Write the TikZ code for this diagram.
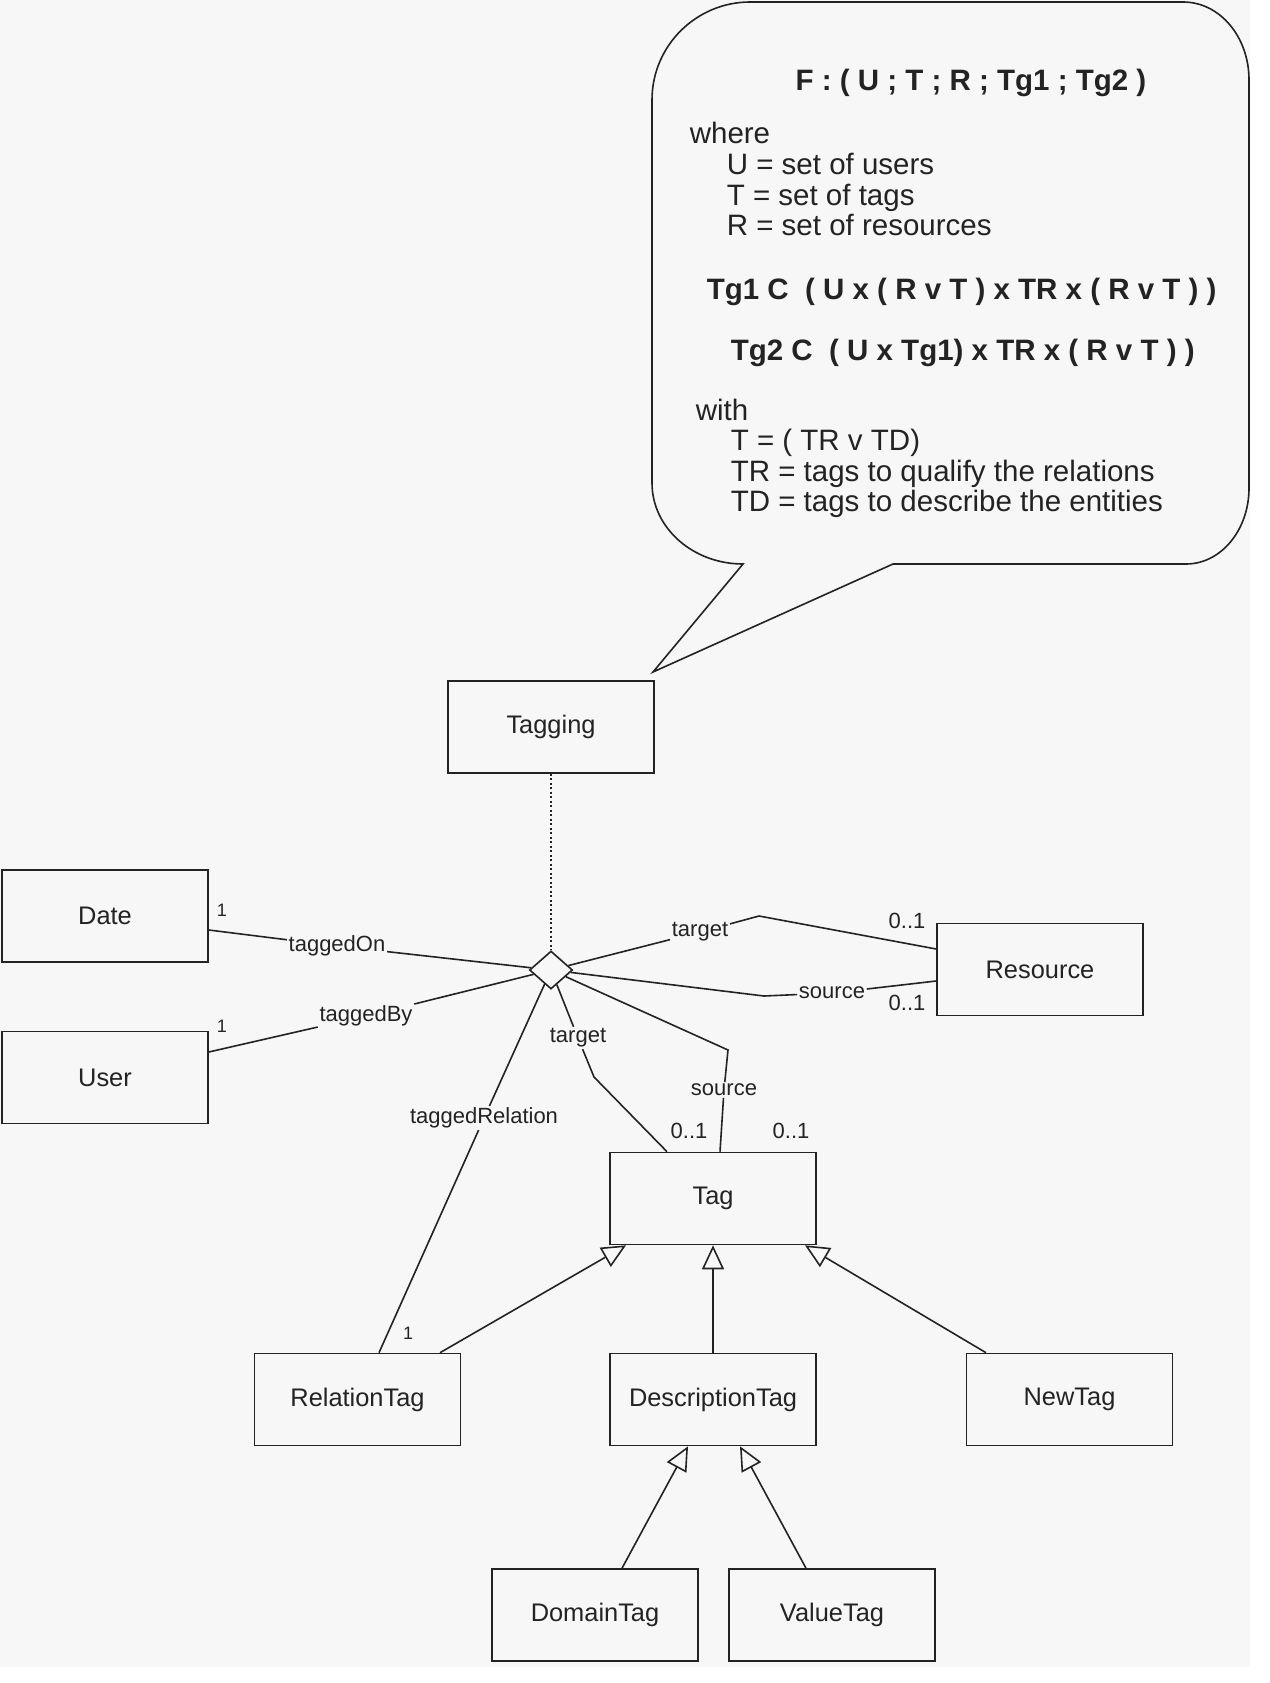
\documentclass[tikz,border=0pt]{standalone}
\usepackage{fontspec}
\setmainfont{Liberation Sans}
\usepackage{tikz}
\usetikzlibrary{shapes.geometric, arrows.meta}
\definecolor{ink}{RGB}{35,35,35}
\definecolor{paper}{RGB}{247,247,247}
\newcommand{\classfont}{\fontsize{25.4}{30}\selectfont}
\newcommand{\rolefont}{\fontsize{22}{26}\selectfont}
\newcommand{\multfont}{\fontsize{18}{22}\selectfont}
\newcommand{\notefont}{\fontsize{29.5}{34}\selectfont}

\begin{document}
\begin{tikzpicture}[x=1pt, y=-1pt, line width=1.6pt, color=ink,
        class/.style={draw, rectangle, minimum width=206pt, minimum height=92pt, font=\classfont},
        role/.style={fill=paper, inner sep=1pt, font=\rolefont},
        mult/.style={inner sep=0pt, font=\rolefont},
        note/.style={inner sep=0pt, font=\notefont},
        isa/.style={-{Triangle[open, length=24pt, width=22pt]}}]
                \fill[white] (0,0) rectangle (1269,1683);
                \fill[paper] (0,0) rectangle (1250,1667);
                \useasboundingbox (0,0) rectangle (1269,1683);

                \draw (743,564) .. controls (693,564) and (652,528) .. (652,483)
                    -- (652,100) .. controls (652,45) and (697,2) .. (750,2)
                    -- (1183,2) .. controls (1220,2) and (1249,37) .. (1249,80)
                    -- (1249,488) .. controls (1249,530) and (1221,564) .. (1186,564)
                    -- (893,564) -- (653,672) -- cycle;
                \node[note, font=\notefont\bfseries, anchor=base] (formula) at (971,91) {F : ( U ; T ; R ; Tg1 ; Tg2 )};
                \node[note, anchor=base west] (where) at (689,143) {where};
                \node[note, anchor=base west] (users) at (726,174) {U = set of users};
                \node[note, anchor=base west] (tags) at (726,205) {T = set of tags};
                \node[note, anchor=base west] (resources) at (726,235) {R = set of resources};
                \node[note, font=\notefont\bfseries, anchor=base west] (tgone) at (706,299) {Tg1 C\ \ ( U x ( R v T ) x TR x ( R v T ) )};
                \node[note, font=\notefont\bfseries, anchor=base west] (tgtwo) at (730,360) {Tg2 C\ \ ( U x Tg1) x TR x ( R v T ) )};
                \node[note, anchor=base west] (with) at (695,420) {with};
                \node[note, anchor=base west] (tsplit) at (730,450) {T = ( TR v TD)};
                \node[note, anchor=base west] (trdef) at (730,481) {TR = tags to qualify the relations};
                \node[note, anchor=base west] (tddef) at (730,511) {TD = tags to describe the entities};

                \node[class] (Tagging) at (551,727) {Tagging};
                \node[class] (Date) at (105,916) {Date};
                \node[class] (User) at (105,1077.5) {User};
                \node[class] (Resource) at (1040,969.5) {Resource};
                \node[class] (Tag) at (713,1198.5) {Tag};
                \node[class] (RelationTag) at (357.5,1399.5) {RelationTag};
                \node[class] (DescriptionTag) at (713,1399.5) {DescriptionTag};
                \node[class] (NewTag) at (1069.5,1399.5) {NewTag};
                \node[class] (DomainTag) at (595,1615) {DomainTag};
                \node[class] (ValueTag) at (832,1615) {ValueTag};
                \node[draw, diamond, minimum width=43pt, minimum height=38pt, inner sep=0pt] (assoc) at (551,970) {};

                \node[role] (onLbl) at (337,946) {taggedOn};
                \node[role] (byLbl) at (366,1016) {taggedBy};
                \node[role] (relLbl) at (484,1118) {taggedRelation};
                \node[role] (tgtTagLbl) at (578,1038) {target};
                \node[role] (srcTagLbl) at (724,1090) {source};
                \node[role] (tgtResLbl) at (700,932) {target};
                \node[role] (srcResLbl) at (832,993) {source};

                \node[mult, font=\multfont] (m1) at (222,910) {1};
                \node[mult, font=\multfont] (m2) at (222,1026) {1};
                \node[mult, font=\multfont] (m3) at (408,1333) {1};
                \node[mult] (m4) at (907,921) {0..1};
                \node[mult] (m5) at (907,1003) {0..1};
                \node[mult] (m6) at (689,1131) {0..1};
                \node[mult] (m7) at (791,1131) {0..1};

                \draw ([yshift=-14pt]Date.east) -- (onLbl) -- (assoc);
                \draw ([yshift=25.5pt]User.east) -- (byLbl) -- (assoc);
                \draw (assoc) -- (relLbl) -- ([xshift=21.5pt]RelationTag.north);
                \draw (assoc) -- (tgtTagLbl) -- (594,1077) -- ([xshift=-46pt]Tag.north);
                \draw (assoc) -- (728,1050) -- (srcTagLbl) -- ([xshift=7pt]Tag.north);
                \draw (assoc) -- (tgtResLbl) -- (759,916) -- ([yshift=20.5pt]Resource.west);
                \draw (assoc) -- (764,996) -- (srcResLbl) -- ([yshift=-11.5pt]Resource.west);
                \draw[dash pattern=on 2pt off 2.5pt, line width=1.4pt] (Tagging) -- (assoc);
                \draw[isa] ([xshift=82.5pt]RelationTag.north) -- ([xshift=-87pt]Tag.south);
                \draw[isa] (DescriptionTag) -- (Tag);
                \draw[isa] ([xshift=-83.5pt]NewTag.north) -- ([xshift=92pt]Tag.south);
                \draw[isa] ([xshift=27pt]DomainTag.north) -- ([xshift=-25pt]DescriptionTag.south);
                \draw[isa] ([xshift=-26pt]ValueTag.north) -- ([xshift=27pt]DescriptionTag.south);
            \end{tikzpicture}
\end{document}
